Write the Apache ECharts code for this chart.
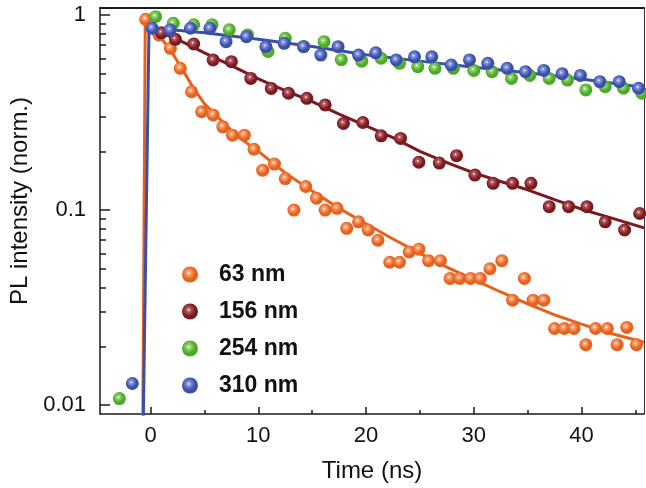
<!DOCTYPE html>
<html>
<head>
<meta charset="utf-8">
<script src="https://cdn.jsdelivr.net/npm/echarts@6/dist/echarts.min.js"></script>
<style>
html,body{margin:0;padding:0;background:#fff;}
#chart{width:646px;height:488px;}
</style>
</head>
<body>
<div id="chart"></div>
<script>
// ---- data ----
const seriesNames = ['63 nm', '156 nm', '254 nm', '310 nm'];

const t63 = [-0.46, 0.77, 1.83, 2.75, 3.8, 4.74, 5.8, 6.7, 7.6, 8.7, 9.6, 10.4, 11.5, 12.5, 13.3, 14.4, 15.4, 16.2, 17.3, 18.2, 19.3, 20.2, 21.1, 22.2, 23.1, 24.0, 24.9, 25.8, 26.9, 27.8, 28.7, 29.7, 30.6, 31.5, 32.6, 33.6, 34.7, 35.5, 36.5, 37.5, 38.4, 39.3, 40.4, 41.3, 42.4, 43.3, 44.2, 45.1];
const y63 = [0.95, 0.79, 0.675, 0.533, 0.404, 0.319, 0.307, 0.267, 0.242, 0.242, 0.205, 0.16, 0.172, 0.145, 0.1, 0.132, 0.115, 0.1, 0.102, 0.0806, 0.087, 0.079, 0.07, 0.054, 0.054, 0.061, 0.063, 0.055, 0.055, 0.0446, 0.0446, 0.0446, 0.0446, 0.05, 0.055, 0.0345, 0.0446, 0.0345, 0.0345, 0.0247, 0.0247, 0.0247, 0.0204, 0.0247, 0.0247, 0.0204, 0.025, 0.0204];

const t156 = [1.0, 2.3, 4.0, 5.8, 7.5, 9.3, 11.2, 12.8, 14.5, 16.2, 17.9, 19.7, 21.4, 23.2, 24.9, 26.8, 28.4, 30.1, 31.8, 33.6, 35.3, 37.0, 38.8, 40.5, 42.2, 44.0, 45.4];
const y156 = [0.81, 0.75, 0.71, 0.588, 0.576, 0.473, 0.42, 0.397, 0.374, 0.346, 0.278, 0.281, 0.24, 0.233, 0.176, 0.174, 0.19, 0.151, 0.137, 0.137, 0.137, 0.104, 0.104, 0.104, 0.087, 0.079, 0.096];

const t254 = [-2.9, 0.46, 2.1, 4.0, 5.7, 7.3, 9.0, 10.9, 12.5, 14.2, 16.1, 17.7, 19.6, 21.4, 23.1, 24.8, 26.4, 28.1, 30.0, 31.7, 33.5, 35.2, 37.0, 38.7, 40.4, 42.2, 43.9, 45.6];
const y254 = [0.0108, 0.98, 0.906, 0.89, 0.89, 0.84, 0.79, 0.65, 0.76, 0.69, 0.73, 0.59, 0.58, 0.6, 0.565, 0.543, 0.533, 0.533, 0.52, 0.512, 0.473, 0.49, 0.473, 0.464, 0.413, 0.429, 0.421, 0.397];

const t310 = [-1.7, 0.15, 1.8, 3.7, 5.5, 7.0, 8.9, 10.7, 12.4, 14.2, 15.8, 17.4, 19.3, 20.9, 22.8, 24.5, 26.1, 27.9, 29.6, 31.3, 33.1, 34.8, 36.5, 38.2, 39.9, 41.7, 43.5, 45.3];
const y310 = [0.0129, 0.855, 0.838, 0.855, 0.855, 0.73, 0.774, 0.688, 0.716, 0.688, 0.623, 0.688, 0.623, 0.64, 0.588, 0.61, 0.61, 0.554, 0.588, 0.565, 0.533, 0.512, 0.52, 0.5, 0.49, 0.455, 0.455, 0.421];

// fitted curves
const fitT63 = [-0.72, -0.5, 0, 1, 2, 3, 4, 5, 6.5, 8, 10, 12.5, 15, 17.5, 20, 22.5, 25, 27.5, 30, 32.5, 35, 37.5, 40, 42.5, 45.8];
const fitY63 = [0.0085, 0.93, 0.88, 0.76, 0.64, 0.52, 0.42, 0.35, 0.29, 0.24, 0.2, 0.155, 0.125, 0.102, 0.085, 0.071, 0.06, 0.051, 0.044, 0.038, 0.033, 0.029, 0.026, 0.0235, 0.021];
const fitT156 = [0.5, 2.5, 5, 7.5, 10, 12.5, 15, 17.5, 20, 22.5, 25, 27.5, 30, 32.5, 35, 37.5, 40, 42.5, 45.8];
const fitY156 = [0.83, 0.75, 0.64, 0.55, 0.47, 0.41, 0.36, 0.31, 0.27, 0.235, 0.2, 0.175, 0.155, 0.14, 0.127, 0.113, 0.101, 0.092, 0.081];
const fitT310 = [-0.68, -0.15, 0, 5, 10, 15, 20, 25, 30, 35, 40, 45.8];
const fitY310 = [0.0085, 0.86, 0.86, 0.81, 0.75, 0.69, 0.625, 0.58, 0.54, 0.505, 0.47, 0.425];

const xMajorTicks = [0, 10, 20, 30, 40];
const xMinorTicks = [5, 15, 25, 35, 45];
const yMinorTicks = [0.02, 0.03, 0.04, 0.05, 0.06, 0.07, 0.08, 0.09, 0.2, 0.3, 0.4, 0.5, 0.6, 0.7, 0.8, 0.9];

const colors = ['#E8601C', '#7A1A1E', '#4DAA26', '#3A4FA8'];
const lightColors = ['#F8A878', '#B86068', '#98D878', '#8898E0'];

// ---- build chart ----
const X_MIN = -4.7, X_MAX = 45.8, Y_MIN = 0.009, Y_MAX = 1.086;
const FONT = 'Liberation Sans, Arial, Helvetica, sans-serif';

function pairs(ts, ys) { return ts.map((t, i) => [t, ys[i]]); }
function ball(i) {
  return {
    type: 'radial', x: 0.42, y: 0.4, r: 0.62,
    colorStops: [
      { offset: 0, color: '#ffffff' },
      { offset: 0.18, color: lightColors[i] },
      { offset: 0.65, color: colors[i] },
      { offset: 1, color: colors[i] }
    ]
  };
}

const chart = echarts.init(document.getElementById('chart'), null, { renderer: 'canvas' });

const scatterData = [pairs(t63, y63), pairs(t156, y156), pairs(t254, y254), pairs(t310, y310)];

const series = [];
// fit lines
[[fitT63, fitY63, 0], [fitT156, fitY156, 1], [fitT310, fitY310, 3]].forEach(([ts, ys, ci]) => {
  series.push({
    name: seriesNames[ci] + ' fit', type: 'line', data: pairs(ts, ys),
    showSymbol: false, symbol: 'none', smooth: false,
    lineStyle: { color: colors[ci], width: 3 }, z: 2, silent: true
  });
});
// scatter points
seriesNames.forEach((n, i) => {
  series.push({
    name: n, type: 'scatter', data: scatterData[i],
    symbol: 'circle', symbolSize: 13,
    itemStyle: { color: ball(i), opacity: 1 }, z: 3
  });
});

const option = {
  animation: false,
  backgroundColor: '#ffffff',
  grid: { left: 94, right: 2, top: 8, bottom: 74, containLabel: false },
  legend: {
    orient: 'vertical', left: 177, top: 258, itemGap: 14,
    itemWidth: 16, itemHeight: 16, icon: 'circle',
    data: seriesNames,
    textStyle: { fontFamily: FONT, fontSize: 23, fontWeight: 'bold', color: '#111', padding: [0, 0, 0, 16] }
  },
  xAxis: [
    {
      type: 'value', min: X_MIN, max: X_MAX, position: 'bottom',
      name: 'Time (ns)', nameLocation: 'middle', nameGap: 45,
      nameTextStyle: { fontFamily: FONT, fontSize: 24, color: '#111' },
      axisLine: { show: true, onZero: false, lineStyle: { color: '#1a1a1a', width: 1.5 } },
      axisTick: { show: true, inside: true, length: 7, customValues: xMajorTicks, lineStyle: { color: '#1a1a1a', width: 1.5 } },
      axisLabel: { customValues: xMajorTicks, fontFamily: FONT, fontSize: 22, color: '#111', margin: 11 },
      splitLine: { show: false }
    },
    {
      type: 'value', min: X_MIN, max: X_MAX, position: 'bottom',
      axisLine: { show: false, onZero: false },
      axisTick: { show: true, inside: true, length: 4, customValues: xMinorTicks, lineStyle: { color: '#1a1a1a', width: 1.5 } },
      axisLabel: { show: false }, splitLine: { show: false }
    },
    {
      type: 'value', min: X_MIN, max: X_MAX, position: 'top',
      axisLine: { show: true, onZero: false, lineStyle: { color: '#1a1a1a', width: 2 } },
      axisTick: { show: false }, axisLabel: { show: false }, splitLine: { show: false }
    }
  ],
  yAxis: [
    {
      type: 'log', logBase: 10, min: Y_MIN, max: Y_MAX, position: 'left',
      name: 'PL intensity (norm.)', nameLocation: 'middle', nameGap: 68,
      nameTextStyle: { fontFamily: FONT, fontSize: 24, color: '#111', padding: [0, 0, 0, 20] },
      axisLine: { show: true, onZero: false, lineStyle: { color: '#1a1a1a', width: 1.5 } },
      axisTick: { show: true, inside: true, length: 10, lineStyle: { color: '#1a1a1a', width: 1.5 } },
      axisLabel: { fontFamily: FONT, fontSize: 22, color: '#111', margin: 14, showMinLabel: false, showMaxLabel: false,
        formatter: v => (Math.abs(v - 1) < 1e-6 ? '1' : Math.abs(v - 0.1) < 1e-7 ? '0.1' : Math.abs(v - 0.01) < 1e-8 ? '0.01' : '') },
      splitLine: { show: false }
    },
    {
      type: 'value', min: Math.log10(Y_MIN), max: Math.log10(Y_MAX), position: 'left',
      axisLine: { show: false, onZero: false },
      axisTick: { show: true, inside: true, length: 6, customValues: yMinorTicks.map(v => Math.log10(v)), lineStyle: { color: '#1a1a1a', width: 1.5 } },
      axisLabel: { show: false }, splitLine: { show: false }
    },
    {
      type: 'value', min: 0, max: 1, position: 'right',
      axisLine: { show: true, onZero: false, lineStyle: { color: '#333', width: 1 } },
      axisTick: { show: false }, axisLabel: { show: false }, splitLine: { show: false }
    }
  ],
  series: series
};
chart.setOption(option);
</script>
</body>
</html>
